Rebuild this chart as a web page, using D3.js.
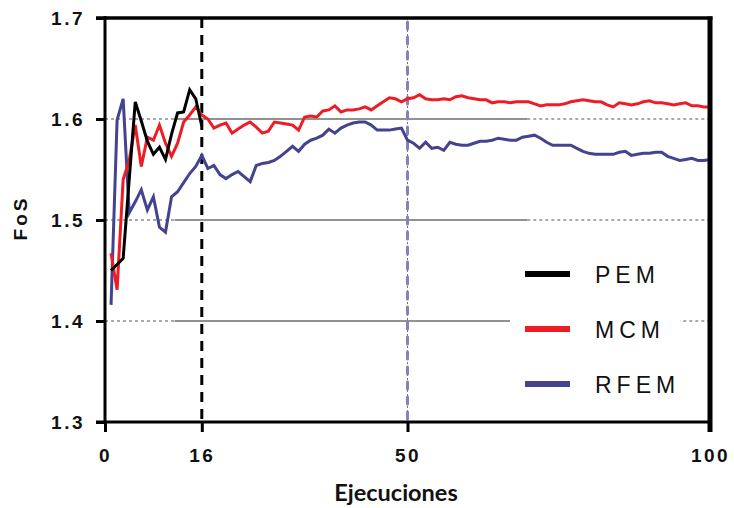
<!DOCTYPE html>
<html>
<head>
<meta charset="utf-8">
<script src="https://cdn.jsdelivr.net/npm/d3@7"></script>
<style>
  html, body { margin: 0; padding: 0; background: #fff; }
  svg { display: block; }
</style>
</head>
<body>
<svg id="chart" width="734" height="508"></svg>
<script>
// Factor of safety (FoS) convergence against number of runs
const pemValues = [1.450, 1.456, 1.462, 1.540, 1.617, 1.598, 1.578, 1.565, 1.572, 1.560,
                   1.585, 1.606, 1.607, 1.629, 1.620, 1.593];

const mcmValues = [
  1.467, 1.431, 1.540, 1.559, 1.594, 1.553, 1.582, 1.579, 1.594, 1.576,
  1.563, 1.576, 1.597, 1.604, 1.612, 1.604, 1.600, 1.591, 1.594, 1.596,
  1.586, 1.590, 1.594, 1.597, 1.592, 1.586, 1.588, 1.597, 1.596, 1.595,
  1.594, 1.589, 1.602, 1.603, 1.602, 1.608, 1.609, 1.613, 1.607, 1.609,
  1.609, 1.610, 1.612, 1.609, 1.613, 1.617, 1.621, 1.620, 1.617, 1.620,
  1.621, 1.624, 1.620, 1.619, 1.619, 1.620, 1.619, 1.622, 1.623, 1.621,
  1.620, 1.619, 1.619, 1.616, 1.617, 1.617, 1.616, 1.617, 1.617, 1.617,
  1.615, 1.613, 1.614, 1.614, 1.614, 1.615, 1.617, 1.618, 1.619, 1.618,
  1.617, 1.617, 1.614, 1.612, 1.616, 1.615, 1.614, 1.615, 1.617, 1.618,
  1.616, 1.616, 1.615, 1.614, 1.615, 1.616, 1.613, 1.613, 1.612, 1.612
];

const rfemValues = [
  1.416, 1.599, 1.620, 1.507, 1.518, 1.530, 1.510, 1.523, 1.493, 1.488,
  1.523, 1.528, 1.537, 1.546, 1.553, 1.564, 1.551, 1.554, 1.545, 1.541,
  1.545, 1.548, 1.543, 1.538, 1.554, 1.556, 1.557, 1.559, 1.563, 1.568,
  1.573, 1.568, 1.575, 1.579, 1.581, 1.584, 1.590, 1.586, 1.591, 1.594,
  1.596, 1.597, 1.597, 1.594, 1.589, 1.589, 1.589, 1.590, 1.591, 1.579,
  1.576, 1.571, 1.577, 1.571, 1.572, 1.569, 1.577, 1.575, 1.574, 1.574,
  1.576, 1.578, 1.578, 1.579, 1.581, 1.580, 1.579, 1.579, 1.582, 1.583,
  1.584, 1.581, 1.577, 1.574, 1.574, 1.574, 1.574, 1.571, 1.568, 1.566,
  1.565, 1.565, 1.565, 1.565, 1.567, 1.568, 1.564, 1.565, 1.566, 1.566,
  1.567, 1.567, 1.563, 1.561, 1.559, 1.560, 1.561, 1.559, 1.559, 1.560
];

const seriesNames = ["PEM", "MCM", "RFEM"];
const seriesColors = ["#000000", "#ee1c25", "#43438e"];
const xTicks = [0, 16, 50, 100];
const yTicks = [1.3, 1.4, 1.5, 1.6, 1.7];
const gridValues = [1.4, 1.5, 1.6];
const refRuns = [16, 50];

const svg = d3.select("#chart");
const plotLeft = 105, plotRight = 710, plotTop = 18, plotBottom = 422;

const x = d3.scaleLinear().domain([0, 100]).range([plotLeft, plotRight]);
const y = d3.scaleLinear().domain([1.3, 1.7]).range([plotBottom, plotTop]);

// horizontal grid: dotted ends with a solid middle stretch
const solidFrom = 11.5, solidTo = 69.8;
const grid = svg.append("g");
gridValues.forEach(v => {
  grid.append("line")
    .attr("x1", x(0)).attr("x2", x(solidFrom))
    .attr("y1", y(v)).attr("y2", y(v))
    .attr("stroke", "#555").attr("stroke-width", 1.2).attr("stroke-dasharray", "3,3");
  grid.append("line")
    .attr("x1", x(solidFrom)).attr("x2", x(solidTo))
    .attr("y1", y(v)).attr("y2", y(v))
    .attr("stroke", "#6e6e6e").attr("stroke-width", 1.6);
  grid.append("line")
    .attr("x1", x(solidTo)).attr("x2", x(100))
    .attr("y1", y(v)).attr("y2", y(v))
    .attr("stroke", "#555").attr("stroke-width", 1.2).attr("stroke-dasharray", "3,3");
});

// reference runs
svg.append("line")
  .attr("x1", x(refRuns[0])).attr("x2", x(refRuns[0]))
  .attr("y1", y(1.7)).attr("y2", y(1.3))
  .attr("stroke", "#000").attr("stroke-width", 3).attr("stroke-dasharray", "10,7");
svg.append("line")
  .attr("x1", x(refRuns[1])).attr("x2", x(refRuns[1]))
  .attr("y1", y(1.7)).attr("y2", y(1.3))
  .attr("stroke", "#6f6f99").attr("stroke-width", 1).attr("stroke-dasharray", "2,2");
svg.append("line")
  .attr("x1", x(refRuns[1])).attr("x2", x(refRuns[1]))
  .attr("y1", y(1.7) + 4).attr("y2", y(1.3))
  .attr("stroke", "#8484b0").attr("stroke-width", 3).attr("stroke-dasharray", "7,8")
  .attr("stroke-linecap", "round");

// series lines
const line = d3.line().x((d, i) => x(i + 1)).y(d => y(d));
const allSeries = [pemValues, mcmValues, rfemValues];
[2, 1, 0].forEach(k => {
  svg.append("path")
    .datum(allSeries[k])
    .attr("fill", "none")
    .attr("stroke", seriesColors[k])
    .attr("stroke-width", 3)
    .attr("stroke-linejoin", "miter")
    .attr("d", line);
});

// legend
const legend = svg.append("g");
legend.append("rect")
  .attr("x", 510).attr("y", 255).attr("width", 170).attr("height", 145)
  .attr("fill", "#fff");
seriesNames.forEach((name, i) => {
  const ly = 274 + i * 55;
  legend.append("line")
    .attr("x1", 525).attr("x2", 570).attr("y1", ly).attr("y2", ly)
    .attr("stroke", seriesColors[i]).attr("stroke-width", 6);
  legend.append("text")
    .attr("x", 595).attr("y", ly + 9)
    .attr("font-family", "'Liberation Sans', Arial, sans-serif")
    .attr("font-size", 23)
    .attr("letter-spacing", 5)
    .attr("fill", "#111")
    .text(name);
});

// axes
const yAxis = d3.axisLeft(y).tickValues(yTicks).tickSize(9).tickFormat(d3.format(".1f"));
const xAxis = d3.axisBottom(x).tickValues(xTicks).tickSize(10).tickFormat(d3.format("d"));

const gy = svg.append("g").attr("transform", `translate(${plotLeft},0)`).call(yAxis);
const gx = svg.append("g").attr("transform", `translate(0,${plotBottom})`).call(xAxis);

[gx, gy].forEach(g => {
  g.select(".domain").remove();
  g.selectAll(".tick line").attr("stroke", "#000").attr("stroke-width", 3);
  g.selectAll(".tick text")
    .attr("font-family", "'Liberation Sans', Arial, sans-serif")
    .attr("font-weight", "bold")
    .attr("font-size", 19)
    .attr("letter-spacing", 2.5)
    .attr("fill", "#111");
});
gy.selectAll(".tick text").attr("x", -20).attr("dy", "0.35em");
gx.selectAll(".tick text").attr("y", 33).attr("dy", "0.35em");

// frame
svg.append("line").attr("x1", plotLeft).attr("x2", plotLeft).attr("y1", plotTop - 2).attr("y2", plotBottom + 1.5)
  .attr("stroke", "#000").attr("stroke-width", 3);
svg.append("line").attr("x1", plotLeft - 9).attr("x2", plotRight + 2).attr("y1", plotBottom).attr("y2", plotBottom)
  .attr("stroke", "#000").attr("stroke-width", 3);
svg.append("line").attr("x1", plotLeft - 9).attr("x2", plotRight + 2.5).attr("y1", plotTop).attr("y2", plotTop)
  .attr("stroke", "#000").attr("stroke-width", 3.5);
svg.append("line").attr("x1", plotRight).attr("x2", plotRight).attr("y1", plotTop - 1.5).attr("y2", plotBottom + 10)
  .attr("stroke", "#000").attr("stroke-width", 5);

// axis titles
svg.append("text")
  .attr("x", 396).attr("y", 501)
  .attr("text-anchor", "middle")
  .attr("font-family", "Lato, 'Liberation Sans', sans-serif")
  .attr("font-weight", "bold")
  .attr("font-size", 23.5)
  .attr("fill", "#111")
  .text("Ejecuciones");

svg.append("text")
  .attr("transform", "translate(27,218) rotate(-90)")
  .attr("text-anchor", "middle")
  .attr("font-family", "'Liberation Sans', Arial, sans-serif")
  .attr("font-weight", "bold")
  .attr("font-size", 19)
  .attr("letter-spacing", 3)
  .attr("fill", "#111")
  .text("FoS");
</script>
</body>
</html>
